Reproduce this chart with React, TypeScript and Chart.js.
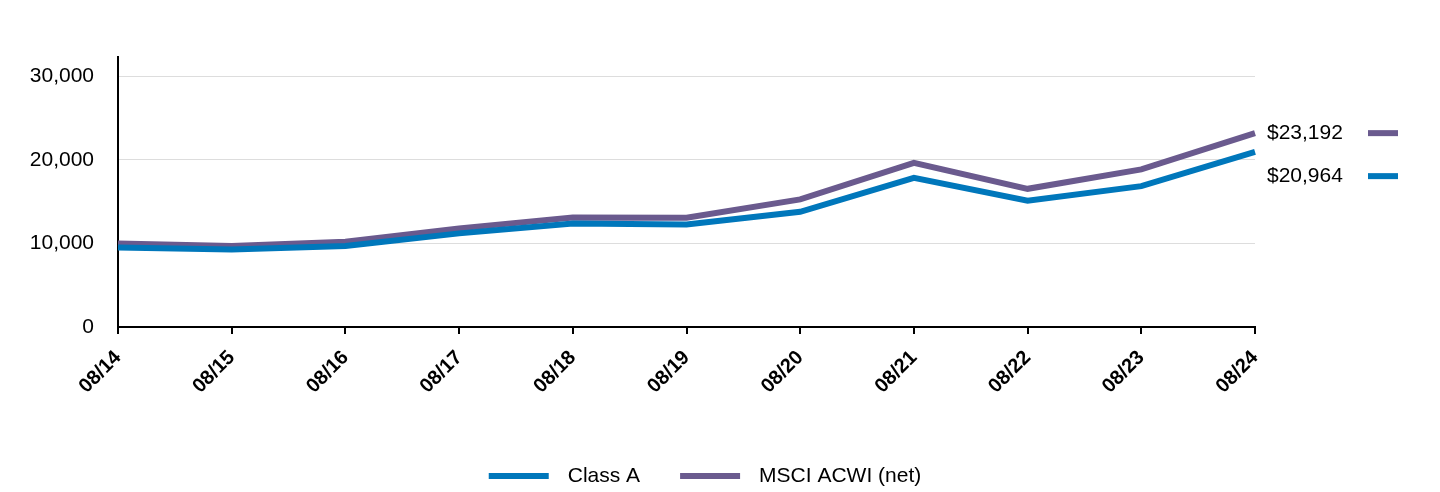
import React, { useEffect, useRef } from "react";
import { Chart, registerables } from "chart.js";

Chart.register(...registerables);

const categories = ["08/14", "08/15", "08/16", "08/17", "08/18", "08/19", "08/20", "08/21", "08/22", "08/23", "08/24"];
const classA = [9520, 9280, 9680, 11200, 12390, 12270, 13780, 17850, 15100, 16850, 20964];
const msci = [10000, 9680, 10200, 11800, 13110, 13060, 15260, 19640, 16530, 18850, 23192];
const seriesNames = ["Class A", "MSCI ACWI (net)"];
const endLabels = ["$20,964", "$23,192"];
const colors = ["#0077BB", "#6A5A8E"];
const yTickValues = [0, 10000, 20000, 30000];

const FONT = "'Liberation Sans', Arial, sans-serif";

const endLabelPlugin = {
  id: "endLabels",
  afterDraw(chart: any) {
    const { ctx, scales } = chart;
    const y = scales.y;
    const xRight = chart.chartArea.right;
    const items = chart.data.datasets.map((ds: any, i: number) => ({
      y: y.getPixelForValue(ds.data[ds.data.length - 1]),
      text: endLabels[i],
      color: colors[i],
    }));
    items.sort((a: any, b: any) => a.y - b.y);
    for (let i = 1; i < items.length; i++) {
      if (items[i].y - items[i - 1].y < 43) items[i].y = items[i - 1].y + 43;
    }
    ctx.save();
    ctx.font = `21px ${FONT}`;
    ctx.textBaseline = "middle";
    ctx.textAlign = "left";
    items.forEach((it: any) => {
      ctx.fillStyle = "#000";
      ctx.fillText(it.text, xRight + 12, it.y);
      ctx.strokeStyle = it.color;
      ctx.lineWidth = 6;
      ctx.beginPath();
      ctx.moveTo(xRight + 113, it.y);
      ctx.lineTo(xRight + 143, it.y);
      ctx.stroke();
    });
    ctx.restore();
  },
};

const legendPlugin = {
  id: "customLegend",
  afterDraw(chart: any) {
    const { ctx } = chart;
    ctx.save();
    ctx.font = `21px ${FONT}`;
    ctx.textBaseline = "middle";
    const boxW = 60;
    const gapText = 19;
    const gapItem = 40;
    const widths = seriesNames.map((n) => boxW + gapText + ctx.measureText(n).width);
    const total = widths.reduce((a, b) => a + b, 0) + gapItem * (seriesNames.length - 1);
    let x = 705 - total / 2;
    const yy = 476;
    seriesNames.forEach((n, i) => {
      ctx.strokeStyle = colors[i];
      ctx.lineWidth = 6;
      ctx.beginPath();
      ctx.moveTo(x, yy);
      ctx.lineTo(x + boxW, yy);
      ctx.stroke();
      ctx.fillStyle = "#000";
      ctx.fillText(n, x + boxW + gapText, yy);
      x += widths[i] + gapItem;
    });
    ctx.restore();
  },
};

export default function App() {
  const ref = useRef<HTMLCanvasElement>(null);
  useEffect(() => {
    const chart = new Chart(ref.current as HTMLCanvasElement, {
      type: "line",
      data: {
        labels: categories,
        datasets: [
          { label: seriesNames[0], data: classA, borderColor: colors[0], backgroundColor: colors[0], borderWidth: 6, pointRadius: 0, tension: 0, fill: false },
          { label: seriesNames[1], data: msci, borderColor: colors[1], backgroundColor: colors[1], borderWidth: 6, pointRadius: 0, tension: 0, fill: false },
        ],
      },
      options: {
        animation: false,
        responsive: false,
        maintainAspectRatio: false,
        layout: { padding: { top: 57, right: 185, left: 0, bottom: 40 } },
        plugins: { legend: { display: false }, tooltip: { enabled: false } },
        scales: {
          x: {
            offset: false,
            grid: { display: true, drawOnChartArea: false, drawTicks: true, tickLength: 7, color: "#000", lineWidth: 2 },
            border: { display: true, color: "#000", width: 2 },
            ticks: {
              color: "#000",
              font: { family: FONT, size: 20, weight: "bold" },
              maxRotation: 45,
              minRotation: 45,
              autoSkip: false,
              padding: 12,
            },
            afterFit(scale: any) {
              scale.height = 125;
            },
          },
          y: {
            min: 0,
            max: 32300,
            afterBuildTicks(scale: any) {
              scale.ticks = yTickValues.map((v) => ({ value: v }));
            },
            grid: { color: "#DDDDDD", lineWidth: 1, drawTicks: false },
            border: { display: true, color: "#000", width: 2 },
            ticks: {
              color: "#000",
              font: { family: FONT, size: 21 },
              padding: 24,
              callback: (v: any) => Number(v).toLocaleString("en-US"),
            },
            afterFit(scale: any) {
              scale.width = 118;
            },
          },
        },
      },
      plugins: [endLabelPlugin, legendPlugin],
    });
    return () => chart.destroy();
  }, []);
  return (
    <div style={{ position: "fixed", left: 0, top: 0, width: 1440, height: 492, background: "#fff" }}>
      <canvas ref={ref} width={1440} height={492} style={{ display: "block" }} />
    </div>
  );
}
